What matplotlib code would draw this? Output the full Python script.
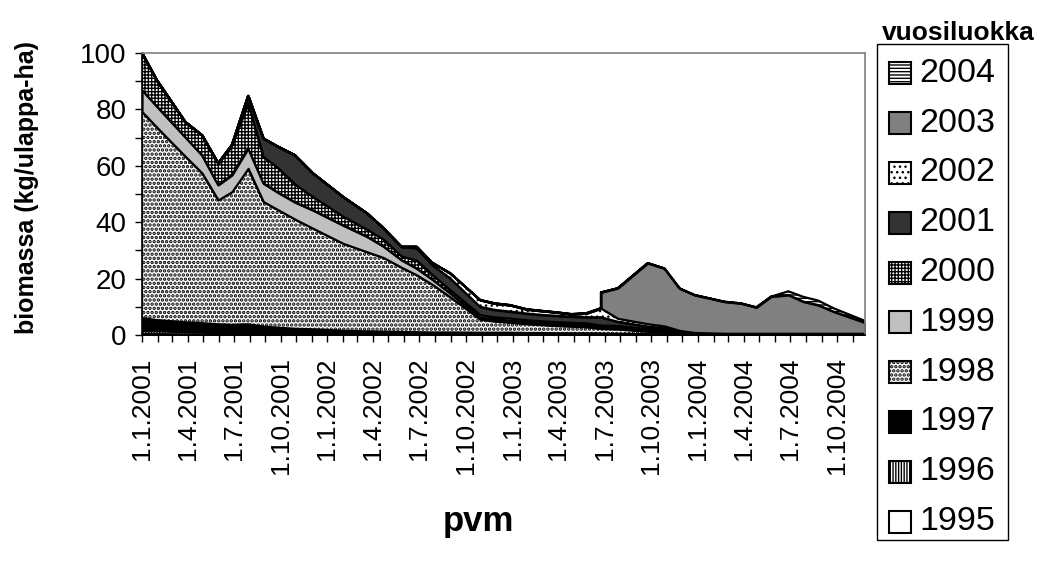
import numpy as np
import matplotlib
matplotlib.use('Agg')
import matplotlib.pyplot as plt
import matplotlib.dates as mdates
from matplotlib.patches import Rectangle
from matplotlib.ticker import FuncFormatter, MultipleLocator

plt.rcParams['font.family'] = ['Liberation Sans', 'DejaVu Sans']
plt.rcParams['hatch.linewidth'] = 1.0
plt.rcParams['hatch.color'] = 'black'

# ---------------- data ----------------
dates = ['2001-01-01', '2001-01-30', '2001-03-27', '2001-04-29', '2001-05-31', '2001-06-27',
         '2001-07-29', '2001-08-28', '2001-09-26', '2001-10-29', '2001-12-04', '2002-02-01',
         '2002-03-20', '2002-04-21', '2002-05-27', '2002-06-26', '2002-07-26', '2002-08-31',
         '2002-10-29', '2002-11-27', '2002-12-27', '2003-01-29', '2003-03-02', '2003-03-30',
         '2003-04-27', '2003-05-26', '2003-06-24', '2003-06-24', '2003-07-27', '2003-09-24',
         '2003-10-27', '2003-11-26', '2003-12-25', '2004-02-22', '2004-03-26', '2004-04-25',
         '2004-05-24', '2004-06-27', '2004-07-27', '2004-08-25', '2004-09-24', '2004-11-25']

y1995 = [0.3, 0.3, 0.2, 0.2, 0.1, 0.1, 0.1] + [0] * 35
y1996 = [1.2, 1.2, 1.0, 0.9, 0.7, 0.5, 0.3, 0.1] + [0] * 34
y1997 = [4.5, 3.8, 3.3, 3.1, 3.0, 3.0, 3.4, 2.9, 2.6, 2.2, 2.0, 1.5, 1.3, 1.2, 1.1, 1.0,
         0.9, 0.9, 0.8, 0.8, 0.8, 0.7, 0.7, 0.6, 0.6, 0.6, 0.5, 0.5, 0.4, 0.3, 0.2, 0.1,
         0] + [0] * 9
y1998 = [73.2, 68.4, 58.9, 53.3, 44.1, 47.2, 55.3, 44.3, 41.8, 38.9, 35.8, 31.0, 28.2, 26.3,
         22.9, 20.3, 17.1, 12.6, 4.8, 4.1, 3.7, 3.3, 2.9, 2.7, 2.5, 2.3, 1.8, 1.8, 1.7, 1.0,
         0.8, 0.2, 0.1] + [0] * 9
y1999 = [7.7, 7.4, 6.8, 6.3, 5.3, 5.9, 7.1, 6.5, 6.1, 6.0, 6.4, 6.4, 5.4, 4.0, 2.6, 2.3,
         1.8, 1.3, 0.6, 0.6, 0.6, 0.6, 0.6, 0.6, 0.6, 0.6, 0.5, 0.5, 0.5, 0.4, 0.3, 0.2,
         0.1] + [0] * 9
y2000 = [13.1, 9.3, 5.4, 7.1, 7.7, 10.7, 16.0, 9.4, 8.8, 6.4, 4.8, 3.2, 2.6, 2.5, 1.4, 2.9,
         1.7, 1.2, 1.0, 0.9, 0.9, 0.8, 0.8, 0.8, 0.8, 0.8, 0.7, 0.7, 0.8, 0.5, 0.4, 0.2,
         0.1] + [0.1] * 9
y2001 = [0, 0, 0, 0, 0, 0, 2.6, 6.5, 7.5, 10.3, 8.3, 6.9, 5.7, 4.0, 3.3, 4.3, 3.4, 4.1,
         2.8, 2.5, 2.3, 2.2, 2.1, 2.1, 2.0, 2.0, 2.8, 2.8, 1.3, 0.8, 0.7, 0.3, 0.2] + [0.1] * 9
y2002 = [0] * 15 + [0.5, 0.8, 1.8, 2.4, 2.3, 2.3, 1.5, 1.4, 1.2, 0.9, 1.4, 3.2, 3.2, 1.2,
                    1.0, 0.8, 0.6, 0.4] + [0.4] * 9
y2003 = [0] * 27 + [5.6, 10.7, 21.5, 20.4, 14.9, 13.3, 11.2, 10.6, 9.2, 13.0, 13.6, 11.2,
                    10.0, 7.7, 3.8]
y2004 = [0] * 37 + [1.3, 1.7, 1.6, 1.2, 0.6]

series_labels = ['1995', '1996', '1997', '1998', '1999', '2000', '2001', '2002', '2003', '2004']
series_values = [y1995, y1996, y1997, y1998, y1999, y2000, y2001, y2002, y2003, y2004]

# styles (facecolor, hatch, hatch linewidth)
styles = {
    '1995': ('white', None, 1.0),
    '1996': ('white', '||||||', 1.0),
    '1997': ('black', None, 1.0),
    '1998': ('white', '....', 1.7),
    '1999': ('#c0c0c0', None, 1.0),
    '2000': ('white', '+++++', 1.0),
    '2001': ('#333333', None, 1.0),
    '2002': ('white', '...', 1.0),
    '2003': ('#808080', None, 1.0),
    '2004': ('white', '-----', 1.0),
}

# ---------------- figure ----------------
W, H = 1040, 564
fig = plt.figure(figsize=(W / 100, H / 100), dpi=100)
fig.patch.set_facecolor('white')
ax = fig.add_axes([142 / W, 1 - 335 / H, (865 - 142) / W, (335 - 53) / H])

x = np.array(dates, dtype='datetime64[D]')
base = np.zeros(len(x))
for lab, vals in zip(series_labels, series_values):
    v = np.array(vals, dtype=float)
    top = base + v
    fc, hatch, hlw = styles[lab]
    with plt.rc_context({'hatch.linewidth': hlw}):
        ax.fill_between(x, base, top, facecolor=fc, edgecolor='black', hatch=hatch,
                        linewidth=1.6, zorder=2)
    base = top

ax.set_xlim(np.datetime64('2001-01-01'), np.datetime64('2004-11-25'))
ax.set_ylim(0, 100)

ax.xaxis.set_major_locator(mdates.MonthLocator(bymonth=[1, 4, 7, 10]))
ax.xaxis.set_minor_locator(mdates.MonthLocator())


def fmt_date(val, pos=None):
    d = mdates.num2date(val)
    return f"{d.day}.{d.month}.{d.year}"


ax.xaxis.set_major_formatter(FuncFormatter(fmt_date))
ax.yaxis.set_major_locator(MultipleLocator(20))
ax.yaxis.set_minor_locator(MultipleLocator(10))

ax.tick_params(axis='x', which='both', direction='out', length=5, width=1, color='black',
               labelsize=19, pad=11)
ax.tick_params(axis='x', which='major', labelrotation=90)
ax.tick_params(axis='y', which='both', direction='out', length=5, width=1, color='black',
               labelsize=20, pad=6)

for s in ['top', 'right']:
    ax.spines[s].set_color('#808080')
    ax.spines[s].set_linewidth(1.2)
for s in ['left', 'bottom']:
    ax.spines[s].set_color('black')
    ax.spines[s].set_linewidth(1.2)

fig.text(27 / W, 1 - 188 / H, 'biomassa (kg/ulappa-ha)', rotation=90, ha='center', va='center',
         fontsize=18, fontweight='bold')
fig.text(478 / W, 1 - 521 / H, 'pvm', ha='center', va='center', fontsize=25, fontweight='bold')
fig.text(958 / W, 1 - 33 / H, 'vuosiluokka', ha='center', va='center', fontsize=19,
         fontweight='bold')

# legend (manual, boxed)
frame = Rectangle((876.5 / W, 1 - 540 / H), (1008 - 876.5) / W, (540 - 44) / H,
                  transform=fig.transFigure, facecolor='white', edgecolor='black',
                  linewidth=1.0, zorder=5)
fig.patches.append(frame)
entry_y0 = 73.3
entry_dy = 49.8
for i, lab in enumerate(series_labels[::-1]):
    cy = entry_y0 + i * entry_dy
    fc, hatch, hlw = styles[lab]
    with plt.rc_context({'hatch.linewidth': hlw}):
        sq = Rectangle((888.5 / W, 1 - (cy + 11) / H), 22 / W, 22 / H, transform=fig.transFigure,
                       facecolor=fc, edgecolor='black', hatch=hatch, linewidth=1.5, zorder=6)
    fig.patches.append(sq)
    fig.text(919 / W, 1 - cy / H, lab, ha='left', va='center', fontsize=24.5, zorder=7)

fig.savefig('out.png', dpi=100)
